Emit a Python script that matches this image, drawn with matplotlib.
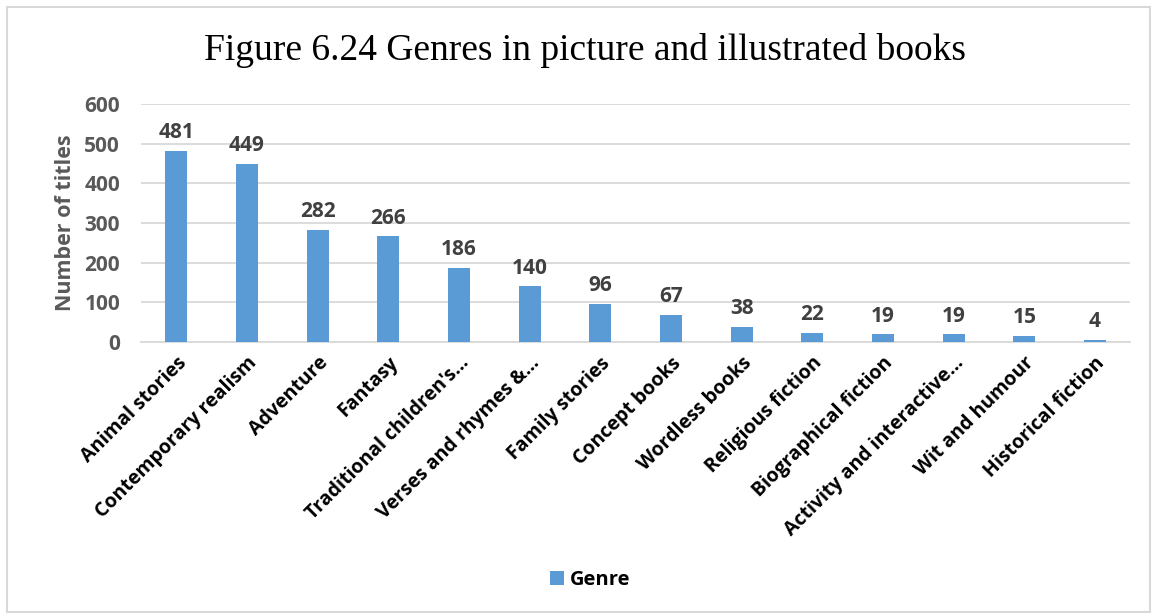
import matplotlib.pyplot as plt
from matplotlib.patches import Rectangle

genres = ["Animal stories", "Contemporary realism", "Adventure", "Fantasy",
          "Traditional children's\u2026", "Verses and rhymes &\u2026", "Family stories",
          "Concept books", "Wordless books", "Religious fiction", "Biographical fiction",
          "Activity and interactive\u2026", "Wit and humour", "Historical fiction"]
titles = [481, 449, 282, 266, 186, 140, 96, 67, 38, 22, 19, 19, 15, 4]
yticks = [0, 100, 200, 300, 400, 500, 600]

blue = '#5b9bd5'
grey = '#595959'
font = 'Open Sans'

fig = plt.figure(figsize=(11.53, 6.16), dpi=100)
fig.patches.append(Rectangle((7/1153, 4/616), 1143/1153, 605/616, transform=fig.transFigure,
                             fill=False, edgecolor='#d9d9d9', lw=1.5))
ax = fig.add_axes([0.1223, 0.4448, 0.858, 0.3864])

x = range(len(genres))
bars = ax.bar(x, titles, width=0.31, color=blue, zorder=3, label='Genre')
for b, v in zip(bars, titles):
    ax.text(b.get_x() + b.get_width()/2, v + 20, str(v), ha='center', va='bottom',
            fontsize=15, fontweight='bold', color='#404040', family=font)

ax.set_xlim(-0.5, len(genres) - 0.5)
ax.set_ylim(0, 600)
ax.set_yticks(yticks)
ax.set_yticklabels([str(t) for t in yticks], fontsize=15, fontweight='bold', color=grey, family=font)
ax.set_xticks(list(x))
ax.set_xticklabels(genres, rotation=45, ha='right', rotation_mode='anchor',
                   fontsize=14, fontweight='bold', color='black', family=font)
ax.tick_params(length=0, pad=15)
ax.tick_params(axis='x', pad=8)
ax.grid(axis='y', color='#d9d9d9', lw=1.3, zorder=0)
for s in ['top', 'right', 'left']:
    ax.spines[s].set_visible(False)
ax.spines['bottom'].set_color('#d9d9d9')
ax.spines['bottom'].set_linewidth(1.3)

ax.set_ylabel('Number of titles', fontsize=15.5, fontweight='bold', color=grey, family=font, labelpad=6)
fig.text(0.507, 0.918, 'Figure 6.24 Genres in picture and illustrated books', ha='center', va='center',
         fontsize=27, family='Liberation Serif', color='black')

leg = fig.legend(handles=[bars], labels=['Genre'], loc='center', bbox_to_anchor=(0.512, 0.058),
                 frameon=False, handlelength=0.7, handleheight=0.7, handletextpad=0.3,
                 prop={'family': font, 'weight': 'bold', 'size': 14.5})

fig.savefig('out.png', dpi=100)
